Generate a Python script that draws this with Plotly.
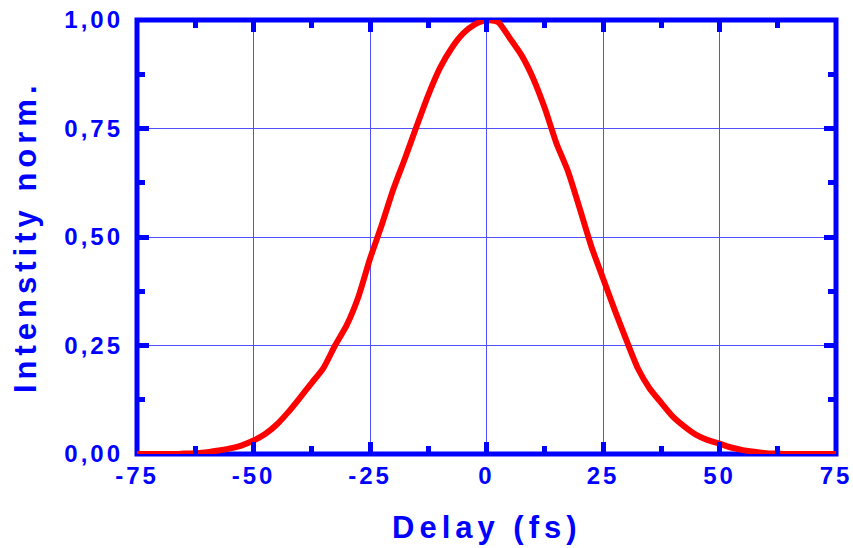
import plotly.graph_objects as go

# Autocorrelation trace: delay (fs) vs normalized intensity
delay_fs = [-75, -72.5, -70, -67.5, -65, -62.5, -60, -57.5, -55, -52.5,
            -50, -47.5, -45, -42.5, -40, -37.5, -35, -32.5, -30, -27.5,
            -25, -22.5, -20, -17.5, -15, -12.5, -10, -7.5, -5, -2.5,
            0, 2.5, 5, 7.5, 10, 12.5, 15, 17.5, 20, 22.5,
            25, 27.5, 30, 32.5, 35, 37.5, 40, 42.5, 45, 47.5,
            50, 52.5, 55, 57.5, 60, 62.5, 65, 67.5, 70, 72.5, 75]
intensity = [0.0, 0.0, 0.0, 0.0, 0.001, 0.002, 0.004, 0.008, 0.013, 0.02,
             0.031, 0.046, 0.068, 0.097, 0.13, 0.164, 0.198, 0.25, 0.297, 0.362,
             0.45, 0.527, 0.61, 0.681, 0.755, 0.827, 0.889, 0.935, 0.969, 0.99,
             1.0, 0.995, 0.958, 0.919, 0.866, 0.797, 0.716, 0.651, 0.566, 0.478,
             0.405, 0.332, 0.263, 0.197, 0.151, 0.118, 0.086, 0.063, 0.044, 0.032,
             0.024, 0.015, 0.009, 0.005, 0.002, 0.001, 0.0, 0.0, 0.0, 0.0, 0.0]

x_ticks = [-75, -50, -25, 0, 25, 50, 75]
x_tick_labels = ["-75", "-50", "-25", "0", "25", "50", "75"]
y_ticks = [0, 0.25, 0.5, 0.75, 1.0]
y_tick_labels = ["0,00", "0,25", "0,50", "0,75", "1,00"]

BLUE = "#0000ff"
GRID = "rgb(80,80,255)"
FONT = "Liberation Sans, Arial, sans-serif"


def spaced(s, px):
    return f'<span style="letter-spacing:{px}px">{s}</span>'


fig = go.Figure()
fig.add_trace(go.Scatter(
    x=delay_fs, y=intensity, mode="lines",
    line=dict(color="#ff0000", width=6, shape="spline", smoothing=0.6),
    showlegend=False,
))

axis_common = dict(
    showline=False, zeroline=False, mirror="allticks", automargin=False,
    showgrid=True, gridcolor=GRID, gridwidth=1,
    ticks="inside", ticklen=12, tickwidth=5, tickcolor=BLUE,
    tickfont=dict(family=FONT, size=24, color=BLUE, weight="bold"),
)

fig.update_xaxes(
    range=[-75, 75], tickmode="array", tickvals=x_ticks,
    ticktext=[spaced(t, 3) for t in x_tick_labels],
    minor=dict(dtick=12.5, tick0=0, ticks="inside", ticklen=8, tickwidth=5,
               tickcolor=BLUE, showgrid=False),
    ticklabelstandoff=5,
    **axis_common,
)
fig.update_yaxes(
    range=[0, 1], tickmode="array", tickvals=y_ticks,
    ticktext=[spaced(t, 3) for t in y_tick_labels],
    minor=dict(dtick=0.125, tick0=0, ticks="inside", ticklen=8, tickwidth=5,
               tickcolor=BLUE, showgrid=False),
    ticklabelstandoff=13,
    **axis_common,
)

# Heavy frame around the data area
fig.add_shape(type="rect", xref="paper", yref="paper", x0=0, x1=1, y0=0, y1=1,
              line=dict(color=BLUE, width=5), layer="between")

title_font = dict(family=FONT, size=31, color=BLUE, weight="bold")
fig.add_annotation(text=spaced("Delay (fs)", 5), xref="paper", yref="paper",
                   x=0.5, y=0, yanchor="middle", yshift=-73, showarrow=False,
                   font=title_font)
fig.add_annotation(text=spaced("Intenstity norm.", 5), xref="paper", yref="paper",
                   x=0, y=0.5, xanchor="center", xshift=-112, textangle=-90,
                   showarrow=False, font=title_font)

fig.update_layout(
    width=853, height=548,
    margin=dict(l=137, r=17, t=20, b=94),
    paper_bgcolor="white", plot_bgcolor="white",
)

fig.write_html("out.html")
